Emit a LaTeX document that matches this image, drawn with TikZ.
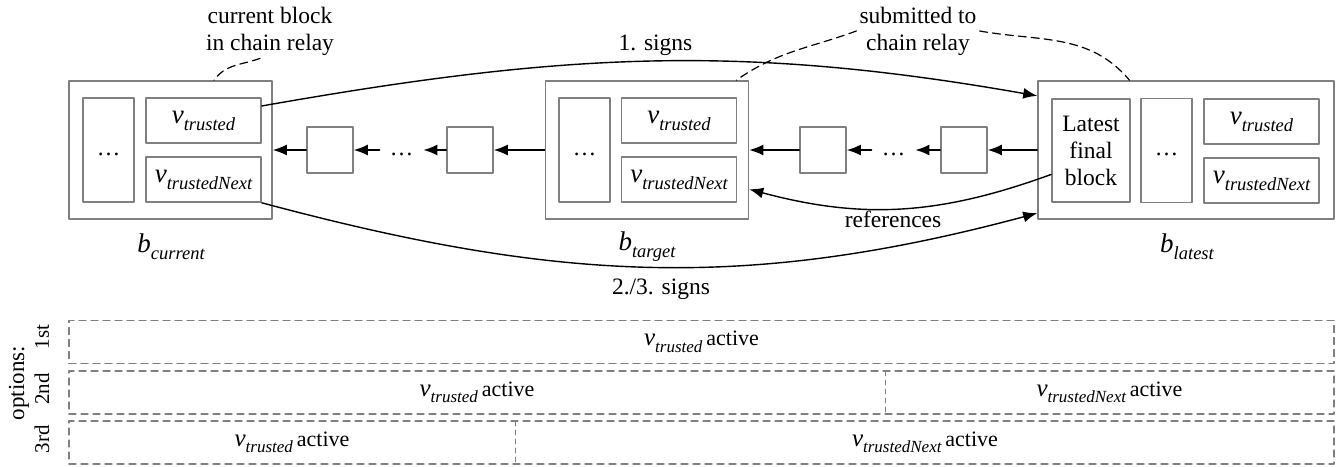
\documentclass[tikz,border=0pt]{standalone}
\usepackage{fontspec}
\setmainfont{Liberation Serif}
\usetikzlibrary{arrows.meta}
\usetikzlibrary{positioning}
\definecolor{boxgray}{rgb}{0.5,0.5,0.5}
\newcommand{\txtsz}{\fontsize{23.5}{27}\selectfont}
\newcommand{\varsub}[2]{{\fontsize{27}{30}\selectfont\itshape #1}\raisebox{-7pt}{\fontsize{18.5}{20}\selectfont\itshape #2}}
\newcommand{\actv}[1]{{\fontsize{25}{28}\selectfont\itshape v}\raisebox{-6.5pt}{\fontsize{17}{19}\selectfont\itshape #1}\,{\fontsize{22}{25}\selectfont active}}

\begin{document}
\begin{tikzpicture}[line cap=round,line join=round, x=1pt,y=1pt,
  every node/.style={font=\txtsz},
  blockbox/.style={draw=boxgray, line width=1.6pt, minimum width=203pt, minimum height=138pt, inner sep=0pt},
  fieldbox/.style={draw=boxgray, line width=1.6pt, inner sep=0pt, align=center},
  smallblk/.style={draw=boxgray, line width=1.6pt, minimum size=46pt, inner sep=0pt},
  chaindots/.style={inner xsep=10pt, inner ysep=0pt},
  arr/.style={line width=1.4pt, -{Latex[length=14pt, width=11pt]}},
  annot/.style={line width=1.2pt, dash pattern=on 8pt off 5pt},
  optrow/.style={draw=boxgray, line width=1.3pt, dash pattern=on 7pt off 5pt, minimum width=1265pt, minimum height=43pt, inner sep=0pt},
  optdiv/.style={draw=boxgray, line width=0.8pt, dash pattern=on 5pt off 4pt}]
\useasboundingbox (0,0) rectangle (1340,-466);
% current block
\node[blockbox] (bcur) at (170.5,-150) {};
\node[fieldbox, minimum width=51pt, minimum height=104pt] (bcurdots) at (108.5,-150) {\strut\dots};
\node[fieldbox, minimum width=115pt, minimum height=45pt] (bcurvt) at (203.5,-120.5) {\varsub{v}{trusted}};
\node[fieldbox, minimum width=115pt, minimum height=45pt] (bcurvn) at (203.5,-179.5) {\varsub{v}{trustedNext}};
\node (bcurlbl) at (171,-247) {\varsub{b}{current}};
% target block
\node[blockbox] (btgt) at (647,-150) {};
\node[fieldbox, minimum width=51pt, minimum height=104pt] (btgtdots) at (584.5,-150) {\strut\dots};
\node[fieldbox, minimum width=115pt, minimum height=45pt] (btgtvt) at (679,-120.5) {\varsub{v}{trusted}};
\node[fieldbox, minimum width=115pt, minimum height=45pt] (btgtvn) at (679,-179.5) {\varsub{v}{trustedNext}};
\node (btgtlbl) at (647,-247) {\varsub{b}{target}};
% latest block
\node[blockbox, minimum width=296pt] (blat) at (1186,-150) {};
\node[fieldbox, minimum width=78pt, minimum height=103pt] (blatfin) at (1091,-150.5) {Latest\\final\\block};
\node[fieldbox, minimum width=51pt, minimum height=104pt] (blatdots) at (1166.5,-150.5) {\strut\dots};
\node[fieldbox, minimum width=115pt, minimum height=45pt] (blatvt) at (1261.5,-121.5) {\varsub{v}{trusted}};
\node[fieldbox, minimum width=115pt, minimum height=45pt] (blatvn) at (1261.5,-180.5) {\varsub{v}{trustedNext}};
\node (blatlbl) at (1187,-247) {\varsub{b}{latest}};
% chain in between
\node[smallblk] (s1) at (330,-150) {};
\node[chaindots] (dots1) at (401.5,-150) {\strut\dots};
\node[smallblk] (s2) at (470,-150) {};
\node[smallblk] (s3) at (823,-150) {};
\node[chaindots] (dots2) at (893.5,-150) {\strut\dots};
\node[smallblk] (s4) at (964,-150) {};
\draw[arr] (s1) -- (bcur);
\draw[arr] (dots1) -- (s1);
\draw[arr] (s2) -- (dots1);
\draw[arr] (btgt) -- (s2);
\draw[arr] (s3) -- (btgt);
\draw[arr] (dots2) -- (s3);
\draw[arr] (s4) -- (dots2);
\draw[arr] (blat) -- (s4);
% signatures
\draw[arr] (bcurvt.14) to[out=10,in=170] (blat.160);
\draw[arr] (bcurvn.south east) to[out=-15,in=-165] (blat.203);
\draw[arr] (blatfin.211) to[out=200,in=-15] (btgt.-21);
\node (sign1) at (655.5,-45) {1. signs};
\node (sign23) at (661,-289) {2./3. signs};
\node (refs) at (893,-219) {references};
% annotations
\node[align=center, inner sep=3pt] (curtxt) at (270,-31) {current block\\in chain relay};
\node[align=center, inner sep=3pt] (subtxt) at (918,-31) {submitted to\\chain relay};
\draw[annot] (curtxt.250) to[out=200,in=55] (bcur.58);
\draw[annot] (subtxt.west) to[out=200,in=35] (btgt.38);
\draw[annot] (subtxt.east) to[out=-10,in=130] (blat.129);
% options
\node[optrow] (opt1) at (701.5,-342) {\actv{trusted}};
\node[optrow] (opt2) at (701.5,-392.5) {};
\node (opt2a) at (477,-392.5) {\actv{trusted}};
\node (opt2b) at (1109.5,-392.5) {\actv{trustedNext}};
\draw[optdiv] (885,-371) -- (885,-414);
\node[optrow] (opt3) at (701.5,-442.5) {};
\node (opt3a) at (292,-442.5) {\actv{trusted}};
\node (opt3b) at (925,-442.5) {\actv{trustedNext}};
\draw[optdiv] (515,-421) -- (515,-464);
\node[rotate=90, font=\fontsize{23}{25}\selectfont] (optlbl) at (19,-383) {options:};
\node[rotate=90, font=\fontsize{21}{23}\selectfont] (opt1lbl) at (42,-337) {1st};
\node[rotate=90, font=\fontsize{21}{23}\selectfont] (opt2lbl) at (42,-389) {2nd};
\node[rotate=90, font=\fontsize{21}{23}\selectfont] (opt3lbl) at (42,-439) {3rd};
\end{tikzpicture}
\end{document}
